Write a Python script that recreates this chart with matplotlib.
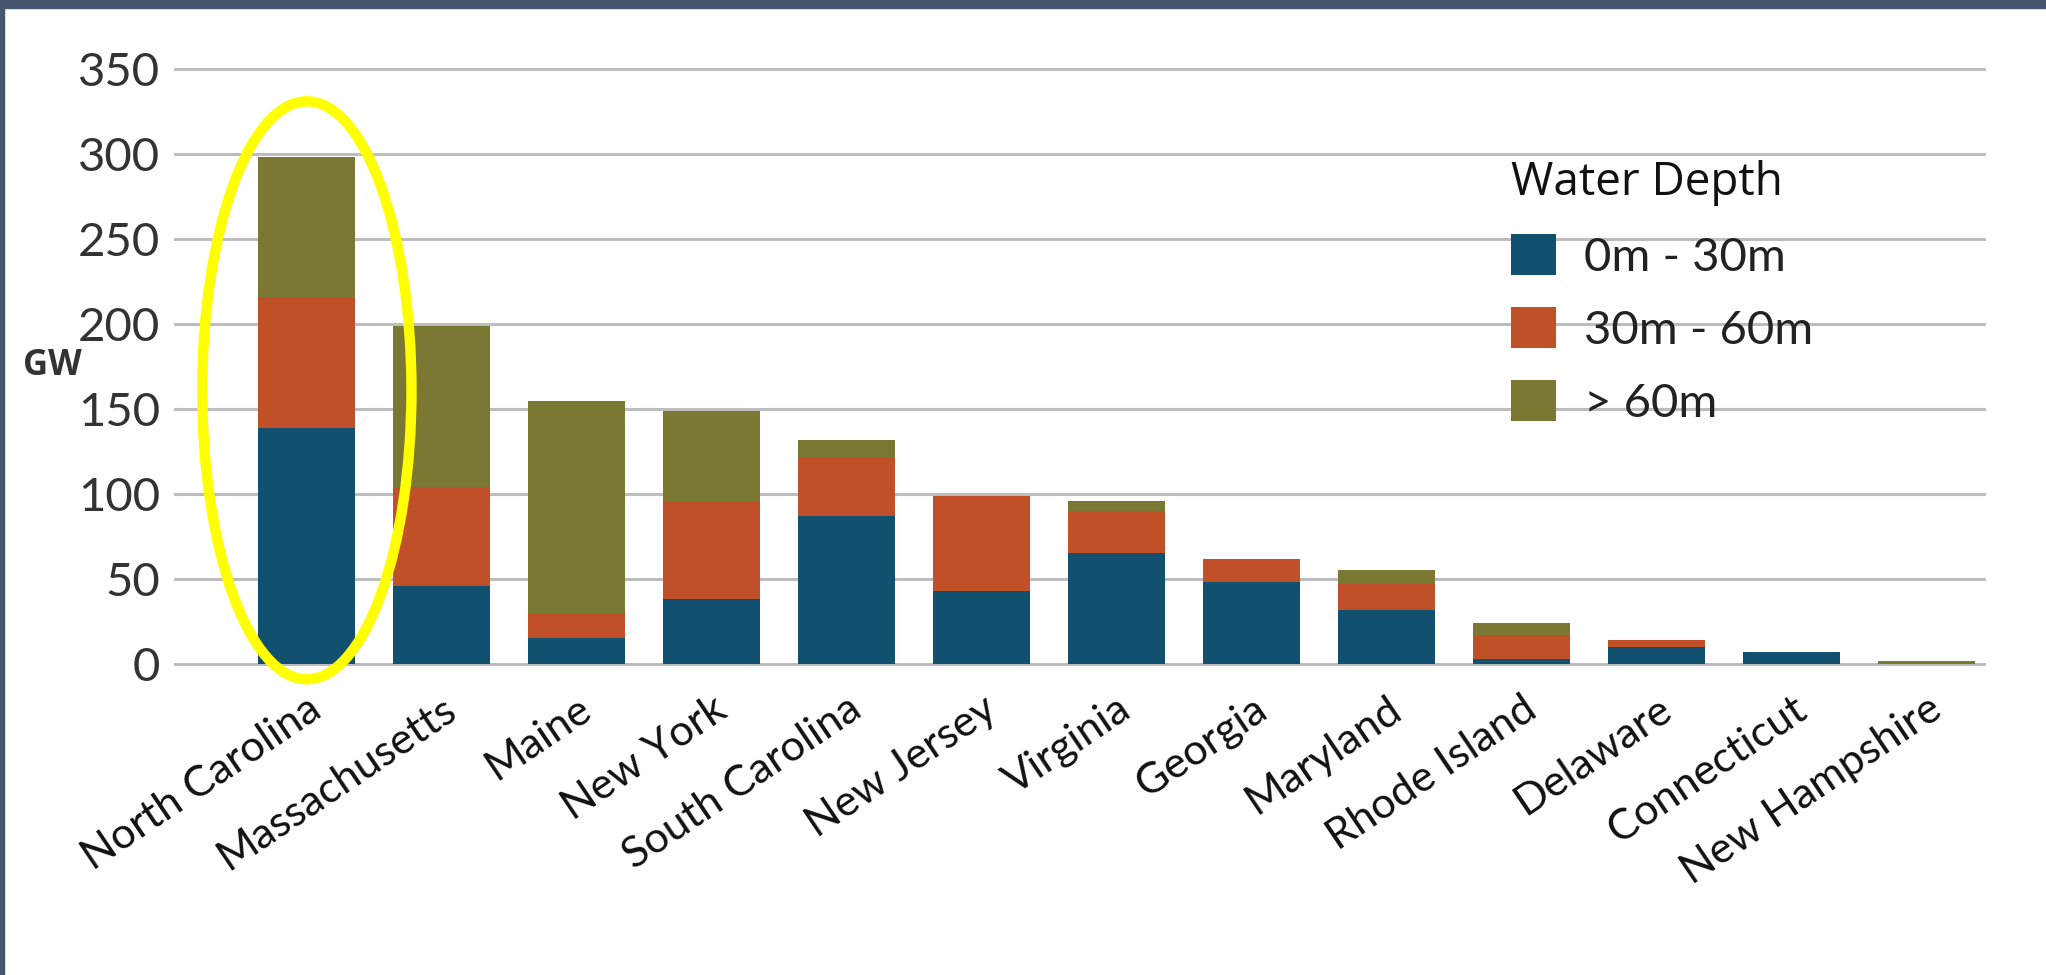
import numpy as np
import matplotlib
matplotlib.use("Agg")
import matplotlib.pyplot as plt
from matplotlib.patches import Ellipse, Rectangle, Patch

states = ['North Carolina', 'Massachusetts', 'Maine', 'New York', 'South Carolina',
          'New Jersey', 'Virginia', 'Georgia', 'Maryland', 'Rhode Island',
          'Delaware', 'Connecticut', 'New Hampshire']
shallow = [139, 46, 15, 38, 87, 43, 65, 48, 32, 3, 10, 7, 0]
mid = [77, 58, 15, 57, 35, 56, 25, 14, 15, 14, 4, 0, 0]
deep = [82, 95, 125, 54, 10, 0, 6, 0, 8, 7, 0, 0, 2]
depth_labels = ['0m - 30m', '30m - 60m', '> 60m']
yticks = [0, 50, 100, 150, 200, 250, 300, 350]

colors = ['#11506F', '#BF5027', '#7A7833']

fig = plt.figure(figsize=(20.46, 9.75), dpi=100)
ax = fig.add_axes([0.085, 0.3155, 0.8857, 0.6172])

x = np.arange(len(states))
shallow = np.array(shallow)
mid = np.array(mid)
deep = np.array(deep)
w = 0.72
ax.bar(x, shallow, w, color=colors[0], zorder=3)
ax.bar(x, mid, w, bottom=shallow, color=colors[1], zorder=3)
ax.bar(x, deep, w, bottom=shallow + mid, color=colors[2], zorder=3)

ax.set_xlim(-0.985, 12.44)
ax.set_ylim(-2, 352)
ax.set_yticks(yticks)
ax.set_yticklabels([str(v) for v in yticks], fontsize=34, color='#333333', family='Lato')
ax.yaxis.grid(True, color='#BDBDBD', linewidth=2.2, zorder=0)
ax.set_axisbelow(True)
for s in ax.spines.values():
    s.set_visible(False)
ax.tick_params(axis='y', length=0, pad=10)
ax.tick_params(axis='x', length=0, pad=16)
ax.set_xticks(x)
ax.set_xticklabels(states, rotation=34, ha='right', va='top', rotation_mode='anchor',
                   fontsize=31, family='Lato', color='#111111')

fig.text(0.011, 0.625, 'GW', fontsize=25, fontweight='bold', color='#333333',
         family='Open Sans', va='center')

# highlight around the first state
ax.add_patch(Ellipse((0, 161), 1.55, 340, fill=False, edgecolor='#FFFF00',
                     linewidth=7.5, clip_on=False, zorder=5))

handles = [Patch(facecolor=c, edgecolor='none') for c in colors]
leg = ax.legend(handles, depth_labels, title='Water Depth', loc='upper left',
                bbox_to_anchor=(0.727, 0.86), bbox_transform=fig.transFigure,
                frameon=False, fontsize=34, title_fontsize=33,
                handlelength=0.95, handleheight=0.95, labelspacing=0.6,
                handletextpad=0.6, alignment='left', borderpad=0)
for t in leg.get_texts():
    t.set_family('Lato')
    t.set_color('#222222')
leg.get_title().set_family('Open Sans')
leg.get_title().set_color('#111111')

# dark frame edges
fig.patches.append(Rectangle((0, 0.992), 1, 0.008, transform=fig.transFigure,
                             color='#45566E', zorder=10))
fig.patches.append(Rectangle((0, 0), 0.002, 1, transform=fig.transFigure,
                             color='#45566E', zorder=10))

fig.savefig('out.png', dpi=100)
